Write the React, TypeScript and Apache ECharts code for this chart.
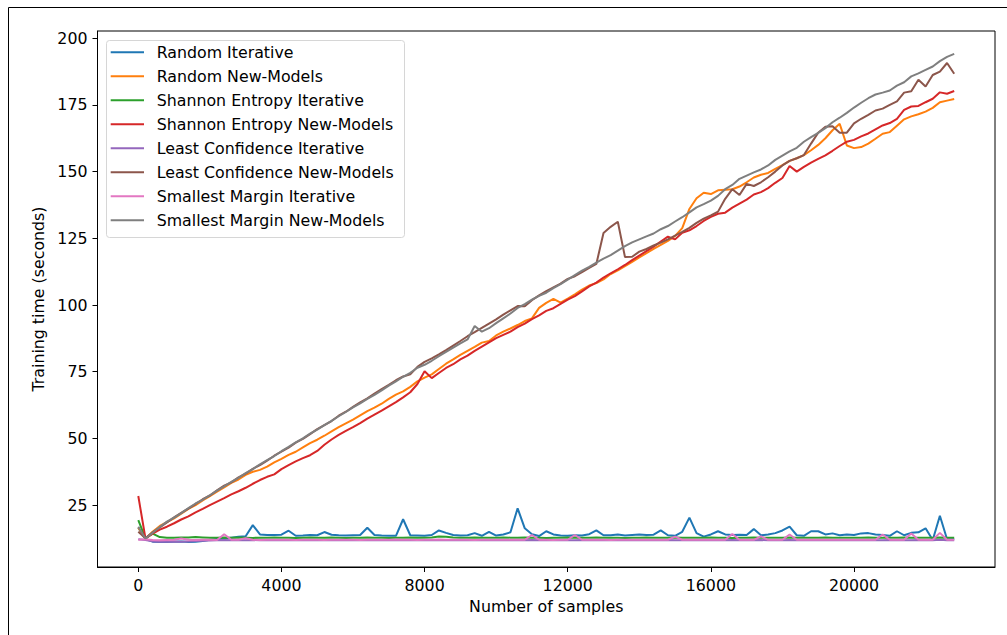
import React, { useEffect, useRef } from "react";
import * as echarts from "echarts";

const samples = [
  0, 200, 400, 600, 800, 1000, 1200, 1400, 1600, 1800,
  2000, 2200, 2400, 2600, 2800, 3000, 3200, 3400, 3600, 3800,
  4000, 4200, 4400, 4600, 4800, 5000, 5200, 5400, 5600, 5800,
  6000, 6200, 6400, 6600, 6800, 7000, 7200, 7400, 7600, 7800,
  8000, 8200, 8400, 8600, 8800, 9000, 9200, 9400, 9600, 9800,
  10000, 10200, 10400, 10600, 10800, 11000, 11200, 11400, 11600, 11800,
  12000, 12200, 12400, 12600, 12800, 13000, 13200, 13400, 13600, 13800,
  14000, 14200, 14400, 14600, 14800, 15000, 15200, 15400, 15600, 15800,
  16000, 16200, 16400, 16600, 16800, 17000, 17200, 17400, 17600, 17800,
  18000, 18200, 18400, 18600, 18800, 19000, 19200, 19400, 19600, 19800,
  20000, 20200, 20400, 20600, 20800, 21000, 21200, 21400, 21600, 21800,
  22000, 22200, 22400, 22600, 22800,
];

const randomIterative = [
  16.5, 12.3, 11.3, 11.2, 11.2, 11.3, 11.4, 11.2, 11.3, 11.5,
  12.0, 12.3, 12.5, 12.8, 13.1, 13.3, 17.5, 14.0, 13.8, 13.8,
  13.9, 15.4, 13.5, 13.6, 13.8, 13.7, 14.9, 13.9, 13.7, 13.6,
  13.7, 13.8, 16.5, 13.8, 13.6, 13.5, 13.5, 19.7, 13.7, 13.6,
  13.5, 13.8, 15.5, 14.6, 13.8, 13.6, 13.7, 14.5, 13.5, 15.0,
  13.6, 14.0, 14.8, 23.8, 16.3, 14.1, 13.4, 15.2, 14.0, 13.6,
  13.5, 13.7, 13.6, 14.1, 15.5, 13.7, 13.7, 14.0, 13.6, 13.8,
  14.0, 13.8, 13.9, 15.5, 13.7, 13.5, 15.0, 20.3, 14.5, 13.2,
  14.0, 15.2, 14.0, 13.8, 13.9, 13.8, 16.0, 13.7, 14.0, 14.5,
  15.5, 16.9, 13.7, 13.5, 15.2, 15.2, 14.0, 14.4, 13.7, 14.0,
  13.8, 14.4, 14.5, 14.0, 13.8, 13.5, 15.2, 13.7, 14.6, 14.8,
  16.3, 11.9, 21.0, 12.2, 12.3,
];

const randomNewModels = [
  16.5, 12.4, 15.0, 17.2, 18.6, 20.0, 21.8, 23.6, 25.0, 26.8,
  28.4, 30.0, 31.6, 33.3, 34.6, 36.3, 37.5, 38.2, 39.4, 41.0,
  42.3, 43.8, 45.0, 46.6, 48.2, 49.5, 51.0, 52.6, 54.2, 55.6,
  57.0, 58.6, 60.2, 61.5, 63.0, 64.8, 66.4, 67.6, 69.3, 71.4,
  72.8, 74.0, 76.0, 78.0, 79.6, 81.3, 82.8, 84.3, 85.9, 86.5,
  88.6, 90.0, 91.2, 92.5, 94.0, 95.0, 98.9, 100.8, 102.3, 100.9,
  102.4, 104.0, 105.8, 107.3, 108.2, 109.6, 111.6, 113.0, 114.6, 116.2,
  117.8, 119.4, 121.0, 122.5, 124.0, 125.9, 128.8, 136.0, 140.0, 142.1,
  141.6, 143.0, 143.2, 143.4, 144.4, 146.0, 147.8, 148.8, 149.5, 151.0,
  152.4, 154.0, 155.0, 156.2, 158.0, 160.0, 162.5, 165.5, 167.9, 159.8,
  158.8, 159.2, 160.5, 162.3, 164.2, 164.8, 167.2, 169.6, 170.7, 171.5,
  172.5, 173.9, 176.0, 176.6, 177.2,
];

const shannonIterative = [
  19.4, 12.5, 14.3, 13.0, 12.8, 12.8, 12.9, 12.9, 13.0, 12.9,
  12.8, 12.8, 12.9, 12.8, 12.9, 12.8, 12.7, 12.8, 12.8, 12.9,
  12.8, 12.8, 12.7, 12.8, 12.9, 12.8, 12.8, 12.9, 12.8, 12.7,
  12.8, 12.8, 12.9, 12.8, 12.8, 12.7, 12.8, 12.8, 12.9, 12.8,
  12.8, 12.9, 13.2, 13.1, 12.9, 12.8, 12.8, 12.9, 12.8, 12.8,
  12.8, 12.9, 12.8, 12.8, 12.9, 12.8, 12.8, 12.7, 12.8, 12.8,
  12.9, 12.8, 12.8, 12.8, 12.9, 12.8, 12.8, 12.8, 12.7, 12.8,
  12.8, 12.9, 12.8, 12.8, 12.8, 12.9, 12.8, 12.8, 12.8, 12.8,
  12.9, 12.8, 12.8, 12.7, 12.8, 12.8, 12.9, 12.8, 12.8, 12.8,
  12.8, 12.9, 12.8, 12.8, 12.8, 12.8, 12.9, 12.8, 12.8, 12.8,
  12.8, 12.8, 12.9, 12.8, 12.8, 12.8, 12.8, 12.9, 12.8, 12.8,
  12.8, 12.8, 12.9, 12.8, 12.8,
];

const shannonNewModels = [
  28.4, 12.5, 14.3, 15.8, 16.9, 18.2, 19.6, 20.8, 22.3, 23.6,
  25.0, 26.3, 27.6, 29.0, 30.2, 31.5, 33.0, 34.4, 35.6, 36.5,
  38.5, 40.0, 41.4, 42.6, 43.7, 45.3, 47.6, 49.6, 51.3, 52.8,
  54.2, 55.7, 57.4, 58.9, 60.4, 62.0, 63.6, 65.4, 67.3, 70.4,
  75.2, 72.6, 74.5, 76.4, 77.8, 79.6, 81.0, 82.8, 84.4, 86.0,
  87.6, 88.8, 90.0, 91.7, 93.0, 94.7, 96.1, 97.8, 98.8, 100.4,
  102.0, 103.3, 105.1, 107.0, 108.4, 110.3, 111.9, 113.4, 115.0, 116.8,
  118.5, 120.2, 121.9, 123.8, 125.6, 124.6, 127.1, 128.0, 129.6, 131.5,
  133.0, 134.2, 134.6, 136.5, 138.0, 139.5, 141.4, 142.3, 143.8, 145.8,
  147.6, 152.1, 150.0, 151.8, 153.4, 154.8, 156.1, 157.8, 159.6, 161.2,
  161.9, 163.2, 164.3, 165.8, 167.3, 168.2, 169.8, 173.1, 174.4, 174.6,
  176.0, 177.3, 179.7, 179.2, 180.2,
];

const leastConfIterative = [
  12.2, 11.9, 11.4, 11.3, 11.3, 11.4, 11.3, 11.4, 11.5, 11.6,
  11.7, 11.8, 11.9, 11.8, 11.9, 11.8, 11.9, 11.8, 11.9, 11.8,
  11.9, 11.8, 11.9, 11.8, 11.8, 11.9, 11.8, 11.8, 11.9, 11.8,
  11.8, 11.9, 11.8, 11.8, 11.9, 11.8, 11.9, 11.8, 11.8, 11.8,
  11.9, 11.8, 11.8, 11.9, 11.8, 11.8, 11.8, 11.9, 11.8, 11.8,
  11.8, 11.9, 11.8, 11.8, 11.8, 11.9, 11.8, 11.8, 11.9, 11.8,
  11.8, 11.8, 11.9, 11.8, 11.8, 11.8, 11.9, 11.8, 11.8, 11.8,
  11.9, 11.8, 11.8, 11.8, 11.9, 11.8, 11.8, 11.8, 11.8, 11.9,
  11.8, 11.8, 11.8, 11.9, 11.8, 11.8, 11.8, 11.9, 11.8, 11.8,
  11.8, 11.9, 11.8, 11.8, 11.8, 11.8, 11.9, 11.8, 11.8, 11.8,
  11.9, 11.8, 11.8, 11.8, 11.8, 11.9, 11.8, 11.8, 11.8, 11.9,
  11.8, 11.8, 12.0, 11.8, 11.8,
];

const leastConfNewModels = [
  15.0, 12.6, 14.8, 16.6, 18.5, 20.4, 22.1, 23.7, 25.4, 27.2,
  28.6, 30.5, 32.3, 33.5, 35.4, 36.8, 38.6, 40.0, 41.7, 43.5,
  45.0, 46.5, 48.4, 49.8, 51.6, 53.5, 55.0, 56.5, 58.5, 60.0,
  61.8, 63.5, 65.0, 66.8, 68.5, 70.1, 71.8, 73.2, 74.0, 76.8,
  78.7, 80.0, 81.5, 83.1, 84.8, 86.5, 88.3, 89.8, 91.4, 93.0,
  94.6, 96.4, 98.0, 99.6, 99.5, 101.8, 103.6, 105.2, 106.6, 108.0,
  109.8, 110.8, 112.3, 113.9, 115.4, 127.0, 129.3, 131.2, 118.0, 118.1,
  120.0, 121.0, 122.3, 123.4, 124.6, 126.0, 127.4, 128.9, 130.8, 132.4,
  133.6, 135.0, 139.8, 143.4, 141.2, 145.4, 144.6, 146.0, 147.9, 150.0,
  152.3, 154.0, 155.0, 156.2, 160.5, 164.6, 166.8, 167.0, 164.6, 164.6,
  168.1, 169.8, 171.3, 172.9, 173.6, 175.0, 176.3, 179.6, 180.1, 184.4,
  181.9, 186.2, 187.5, 190.7, 186.7,
];

const smallestMarginIterative = [
  12.0, 12.2, 11.9, 11.8, 11.9, 12.0, 12.5, 12.0, 11.9, 12.0,
  12.0, 11.9, 14.1, 12.0, 12.0, 12.6, 12.0, 11.9, 12.0, 12.0,
  12.0, 12.0, 11.9, 12.0, 12.0, 12.0, 11.9, 12.0, 12.0, 12.0,
  12.0, 11.9, 12.0, 12.0, 12.0, 12.0, 12.1, 12.0, 12.0, 11.9,
  12.0, 12.0, 12.1, 12.0, 12.0, 12.0, 12.0, 11.9, 12.0, 12.0,
  12.0, 12.0, 12.0, 12.0, 12.0, 13.8, 12.0, 12.0, 11.9, 12.0,
  12.0, 13.8, 12.0, 12.0, 12.0, 12.0, 11.9, 12.0, 12.0, 12.0,
  12.0, 12.0, 12.0, 12.0, 12.0, 13.2, 12.0, 12.0, 12.0, 12.0,
  12.0, 12.0, 12.0, 14.2, 12.0, 12.0, 12.0, 13.3, 12.0, 12.0,
  12.0, 14.0, 12.0, 12.0, 12.0, 12.0, 12.0, 12.0, 12.0, 12.0,
  12.0, 12.0, 12.0, 12.0, 14.0, 12.0, 12.0, 12.0, 14.4, 12.0,
  12.0, 12.0, 14.6, 12.0, 12.0,
];

const smallestMarginNewModels = [
  16.9, 12.5, 14.6, 16.8, 18.8, 20.3, 22.0, 23.9, 25.6, 27.0,
  28.7, 30.4, 32.0, 33.7, 35.2, 37.0, 38.5, 40.3, 41.9, 43.4,
  45.2, 46.8, 48.5, 50.0, 51.8, 53.3, 55.0, 56.6, 58.3, 59.9,
  61.6, 63.1, 64.8, 66.3, 68.0, 69.8, 71.4, 73.1, 74.6, 76.5,
  77.6, 79.1, 80.8, 82.4, 84.0, 85.6, 87.1, 92.1, 90.0, 91.3,
  93.2, 95.0, 96.8, 98.9, 100.3, 102.0, 103.4, 104.6, 106.3, 107.8,
  109.5, 111.2, 112.9, 114.3, 115.9, 117.4, 118.7, 120.4, 122.1, 123.5,
  124.6, 125.7, 126.8, 128.4, 129.6, 131.3, 132.9, 134.7, 136.6, 137.8,
  139.1, 140.9, 143.4, 145.0, 147.3, 148.5, 149.7, 150.8, 152.3, 154.4,
  156.0, 157.6, 158.9, 161.2, 162.9, 164.5, 166.3, 168.5, 170.2, 172.0,
  174.0, 175.8, 177.5, 178.9, 179.6, 180.4, 182.2, 183.5, 185.7, 186.8,
  188.1, 189.4, 191.4, 193.0, 194.1,
];

const seriesNames = [
  "Random Iterative",
  "Random New-Models",
  "Shannon Entropy Iterative",
  "Shannon Entropy New-Models",
  "Least Confidence Iterative",
  "Least Confidence New-Models",
  "Smallest Margin Iterative",
  "Smallest Margin New-Models",
];

const seriesValues = [
  randomIterative,
  randomNewModels,
  shannonIterative,
  shannonNewModels,
  leastConfIterative,
  leastConfNewModels,
  smallestMarginIterative,
  smallestMarginNewModels,
];

const seriesColors = [
  "#1f77b4", "#ff7f0e", "#2ca02c", "#d62728",
  "#9467bd", "#8c564b", "#e377c2", "#7f7f7f",
];

const xTicks = [0, 4000, 8000, 12000, 16000, 20000];
const yTicks = [25, 50, 75, 100, 125, 150, 175, 200];

const FONT = "DejaVu Sans";
const FS = 15.8;

export default function App() {
  const ref = useRef<HTMLDivElement>(null);

  useEffect(() => {
    if (!ref.current) return;
    const chart = echarts.init(ref.current, undefined, { renderer: "svg" });

    const legendX = 106;
    const legendY = 40;
    const rowH = 24;
    const legendChildren: any[] = [
      {
        type: "rect",
        shape: { x: legendX + 0.5, y: legendY + 0.5, width: 298, height: 197, r: 3 },
        style: { fill: "rgba(255,255,255,0.8)", stroke: "#d6d6d6", lineWidth: 1 },
      },
    ];
    seriesNames.forEach((name, k) => {
      const cy = legendY + 12.3 + rowH * k;
      legendChildren.push({
        type: "line",
        shape: { x1: 110.7, y1: cy, x2: 144, y2: cy },
        style: { stroke: seriesColors[k], lineWidth: 2 },
      });
      legendChildren.push({
        type: "text",
        x: 156.7,
        y: cy,
        style: {
          text: name,
          fill: "#000",
          font: `${FS}px "${FONT}"`,
          verticalAlign: "middle",
          align: "left",
        },
      });
    });

    const option: any = {
      animation: false,
      backgroundColor: "#fff",
      textStyle: { fontFamily: FONT },
      grid: {
        left: 97.5,
        top: 31,
        width: 897.5,
        height: 536,
        show: true,
        borderColor: "#000",
        borderWidth: 1,
        backgroundColor: "transparent",
        containLabel: false,
      },
      xAxis: {
        type: "value",
        min: -1140,
        max: 23940,
        name: "Number of samples",
        nameLocation: "middle",
        nameGap: 31,
        nameTextStyle: { fontFamily: FONT, fontSize: FS, color: "#000" },
        axisLine: { show: true, onZero: false, lineStyle: { color: "#000", width: 1 } },
        axisTick: {
          show: true,
          length: 5,
          inside: false,
          customValues: xTicks,
          lineStyle: { color: "#000", width: 1 },
        },
        axisLabel: {
          show: true,
          customValues: xTicks,
          margin: 10,
          fontFamily: FONT,
          fontSize: FS,
          color: "#000",
          formatter: (v: number) => String(v),
        },
        splitLine: { show: false },
      },
      yAxis: {
        type: "value",
        min: 1.8,
        max: 202.7,
        name: "Training time (seconds)",
        nameLocation: "middle",
        nameGap: 49,
        nameRotate: 90,
        nameTextStyle: { fontFamily: FONT, fontSize: FS, color: "#000" },
        axisLine: { show: true, onZero: false, lineStyle: { color: "#000", width: 1 } },
        axisTick: {
          show: true,
          length: 5,
          inside: false,
          customValues: yTicks,
          lineStyle: { color: "#000", width: 1 },
        },
        axisLabel: {
          show: true,
          customValues: yTicks,
          margin: 10,
          fontFamily: FONT,
          fontSize: FS,
          color: "#000",
          formatter: (v: number) => String(v),
        },
        splitLine: { show: false },
      },
      series: seriesNames.map((name, k) => ({
        name,
        type: "line",
        symbol: "none",
        showSymbol: false,
        smooth: false,
        lineStyle: { color: seriesColors[k], width: 2 },
        itemStyle: { color: seriesColors[k] },
        data: samples.map((x, i) => [x, seriesValues[k][i]]),
      })),
      graphic: [
        {
          type: "rect",
          silent: true,
          shape: { x: 8.5, y: 7.5, width: 1020, height: 640 },
          style: { fill: "none", stroke: "#000", lineWidth: 1 },
        },
        { type: "group", children: legendChildren },
      ],
    };

    chart.setOption(option);
    return () => {
      chart.dispose();
    };
  }, []);

  return (
    <div
      ref={ref}
      style={{ position: "fixed", left: 0, top: 0, width: 1007, height: 635, background: "#fff" }}
    />
  );
}
